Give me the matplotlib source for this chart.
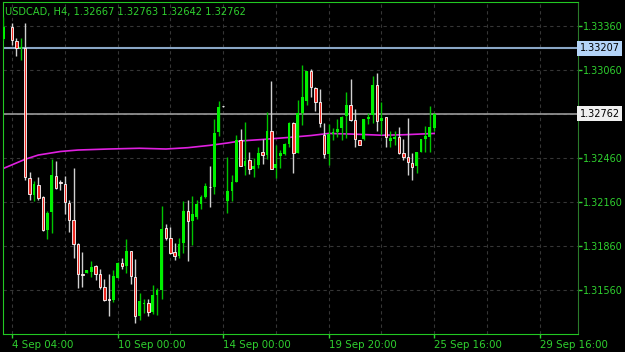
import numpy as np
import matplotlib.pyplot as plt
from matplotlib.transforms import blended_transform_factory

# H4 candles, one entry per bar (bar 1 not visible in the picture)
opens = [1.33271, np.nan, 1.33353, 1.33258, 1.33210, 1.33210, 1.32323, 1.32208, 1.32276, 1.32194,
         1.31969, 1.32092, 1.32337, 1.32296, 1.32283, 1.32153, 1.32037, 1.31873, 1.31669, 1.31676,
         1.31683, 1.31723, 1.31669, 1.31580, 1.31498, 1.31492, 1.31642, 1.31744, 1.31723, 1.31826,
         1.31648, 1.31383, 1.31464, 1.31471, 1.31410, 1.31526, 1.31560, 1.31983, 1.31914, 1.31819,
         1.31792, 1.31880, 1.32098, 1.32030, 1.32058, 1.32146, 1.32194, 1.32262, 1.32262, 1.32637,
         1.32814, 1.32167, 1.32235, 1.32296, 1.32583, 1.32405, 1.32446, 1.32385, 1.32412, 1.32501,
         1.32480, 1.32644, 1.32392, 1.32473, 1.32487, 1.32555, 1.32698, 1.32494, 1.32767, 1.32848,
         1.33053, 1.32937, 1.32842, 1.32617, 1.32487, 1.32623, 1.32637, 1.32664, 1.32746, 1.32821,
         1.32719, 1.32583, 1.32589, 1.32726, 1.32753, 1.32958, 1.32712, 1.32739, 1.32576, 1.32589,
         1.32603, 1.32494, 1.32467, 1.32426, 1.32405, 1.32501, 1.32589, 1.32603, 1.32667]
highs = [1.33421, np.nan, 1.33380, 1.33278, 1.33278, 1.33380, 1.32364, 1.32303, 1.32330, 1.32201,
         1.32098, 1.32453, 1.32439, 1.32310, 1.32337, 1.32173, 1.32392, 1.31880, 1.31819, 1.31696,
         1.31758, 1.31730, 1.31703, 1.31635, 1.31669, 1.31696, 1.31751, 1.31778, 1.31908, 1.31826,
         1.31771, 1.31539, 1.31498, 1.31498, 1.31594, 1.31573, 1.32133, 1.32010, 1.31989, 1.31880,
         1.31914, 1.32167, 1.32173, 1.32201, 1.32173, 1.32208, 1.32289, 1.32405, 1.32726, 1.32848,
         1.32814, 1.32467, 1.32344, 1.32617, 1.32658, 1.32705, 1.32501, 1.32460, 1.32535, 1.32589,
         1.32773, 1.32985, 1.32548, 1.32514, 1.32562, 1.32705, 1.32705, 1.32855, 1.33094, 1.33053,
         1.33067, 1.32944, 1.32930, 1.32698, 1.32692, 1.32664, 1.32726, 1.32746, 1.32910, 1.32998,
         1.32794, 1.32583, 1.32726, 1.32767, 1.33019, 1.33039, 1.32842, 1.32739, 1.32644, 1.32644,
         1.32671, 1.32589, 1.32733, 1.32494, 1.32501, 1.32589, 1.32678, 1.32814, 1.32763]
lows = [1.33264, np.nan, 1.33230, 1.33155, 1.33128, 1.32310, 1.32173, 1.32167, 1.32173, 1.31962,
        1.31908, 1.31948, 1.32248, 1.32242, 1.32078, 1.31955, 1.31778, 1.31573, 1.31580, 1.31676,
        1.31648, 1.31628, 1.31567, 1.31485, 1.31383, 1.31478, 1.31642, 1.31703, 1.31676, 1.31601,
        1.31335, 1.31355, 1.31403, 1.31383, 1.31396, 1.31389, 1.31498, 1.31901, 1.31805, 1.31764,
        1.31778, 1.31812, 1.31758, 1.31867, 1.32044, 1.32112, 1.32187, 1.32126, 1.32214, 1.32610,
        1.32808, 1.32085, 1.32167, 1.32296, 1.32405, 1.32344, 1.32351, 1.32330, 1.32392, 1.32419,
        1.32453, 1.32385, 1.32323, 1.32392, 1.32480, 1.32535, 1.32358, 1.32494, 1.32685, 1.32821,
        1.32876, 1.32780, 1.32671, 1.32460, 1.32412, 1.32583, 1.32603, 1.32583, 1.32596, 1.32712,
        1.32535, 1.32548, 1.32583, 1.32692, 1.32698, 1.32644, 1.32617, 1.32535, 1.32535, 1.32548,
        1.32487, 1.32446, 1.32344, 1.32310, 1.32358, 1.32501, 1.32501, 1.32501, 1.32642]
closes = [1.33353, np.nan, 1.33264, 1.33210, 1.33217, 1.32330, 1.32214, 1.32283, 1.32187, 1.31969,
          1.32085, 1.32344, 1.32255, 1.32289, 1.32160, 1.32037, 1.31873, 1.31669, 1.31662, 1.31696,
          1.31717, 1.31669, 1.31580, 1.31492, 1.31492, 1.31655, 1.31744, 1.31723, 1.31826, 1.31655,
          1.31383, 1.31485, 1.31471, 1.31410, 1.31526, 1.31560, 1.31976, 1.31914, 1.31812, 1.31792,
          1.31873, 1.32098, 1.32030, 1.32078, 1.32146, 1.32194, 1.32269, 1.32259, 1.32630, 1.32808,
          1.32811, 1.32235, 1.32296, 1.32583, 1.32405, 1.32439, 1.32385, 1.32405, 1.32494, 1.32480,
          1.32644, 1.32385, 1.32419, 1.32494, 1.32555, 1.32698, 1.32494, 1.32767, 1.32876, 1.33053,
          1.32944, 1.32842, 1.32698, 1.32487, 1.32623, 1.32637, 1.32658, 1.32739, 1.32821, 1.32719,
          1.32589, 1.32548, 1.32726, 1.32739, 1.32958, 1.32712, 1.32733, 1.32603, 1.32596, 1.32603,
          1.32494, 1.32467, 1.32433, 1.32398, 1.32501, 1.32589, 1.32610, 1.32671, 1.32762]

# moving average read at some bars
ma_bar = [0, 5, 8, 13, 17, 24, 31, 37, 42, 47, 51, 54, 59, 65, 70, 74, 79, 86, 91, 98]
ma_val = [1.32388, 1.32451, 1.32480, 1.32504, 1.32514, 1.32521, 1.32526, 1.32521, 1.32530, 1.32546,
          1.32562, 1.32576, 1.32586, 1.32600, 1.32613, 1.32627, 1.32623, 1.32615, 1.32618, 1.32627]

price_ticks = [1.33360, 1.33060, 1.32460, 1.32160, 1.31860, 1.31560]
grid_prices = [1.33360, 1.33060, 1.32760, 1.32460, 1.32160, 1.31860, 1.31560]
time_bars = [2, 26, 50, 74, 98, 122]
time_labels = ["4 Sep 04:00", "10 Sep 00:00", "14 Sep 00:00", "19 Sep 20:00",
               "25 Sep 16:00", "29 Sep 16:00"]
grid_bars = [14, 38, 62, 86, 110]
level_line = 1.33207
bid_line = 1.32762
title = "USDCAD, H4, 1.32667 1.32763 1.32642 1.32762"

o = np.array(opens, float)
h = np.array(highs, float)
l = np.array(lows, float)
c = np.array(closes, float)
x = np.arange(len(o))
ok = ~np.isnan(o)
up = ok & (c >= o)
dn = ok & (c < o)

txt_green = '#2fd02f'
fig = plt.figure(figsize=(6.25, 3.52), dpi=100, facecolor='black')
ax = fig.add_axes([2.5 / 625, 18 / 352, 575 / 625, 332 / 352])
ax.set_facecolor('black')

# grid
for p in grid_prices:
    ax.axhline(p, color='#363636', lw=0.8, ls=(0, (3, 3)), zorder=0)
for b in time_bars + grid_bars:
    ax.axvline(b, color='#363636', lw=0.8, ls=(0, (3, 3)), zorder=0)

ax.axhline(level_line, color='#8aa6c6', lw=1.5, zorder=1)
ax.axhline(bid_line, color='#9a9a9a', lw=1.2, zorder=1)

ax.plot(ma_bar, ma_val, color='#e020e0', lw=1.2, zorder=2)

ax.vlines(x[up], l[up], h[up], color='#00c400', lw=1, zorder=3)
ax.vlines(x[dn], l[dn], h[dn], color='#d0d0d0', lw=1, zorder=3)
up_h = np.maximum(c[up] - o[up], 0.00003)
ax.bar(x[up], up_h, bottom=o[up], width=0.62, color='#00f000', lw=0, zorder=4)
ax.bar(x[dn], c[dn] - o[dn], bottom=o[dn], width=0.55, color='#ee2a22',
       edgecolor='white', lw=0.6, zorder=4)

ax.set_xlim(-0.16, 130.6)
ax.set_ylim(1.31260, 1.33523)

ax.yaxis.tick_right()
ax.set_yticks(price_ticks)
ax.set_yticklabels(["%.5f" % p for p in price_ticks])
ax.set_xticks(time_bars)
ax.set_xticklabels(time_labels)
for t in ax.get_xticklabels():
    t.set_horizontalalignment('left')
ax.tick_params(axis='y', colors=txt_green, labelsize=7, length=3, width=1, pad=1)
ax.tick_params(axis='x', colors=txt_green, labelsize=7.4, length=3, width=1, pad=1.5)

for side in ['left', 'top', 'bottom']:
    ax.spines[side].set_color('#22c822')
ax.spines['right'].set_color('#2a7a2a')

tr = blended_transform_factory(ax.transAxes, ax.transData)
ax.text(1.004, level_line, "%.5f" % level_line, transform=tr, fontsize=7, color='black',
        va='center', ha='left', bbox=dict(boxstyle='square,pad=0.25', fc='#b4d4f8', ec='none'))
ax.text(1.004, bid_line, "%.5f" % bid_line, transform=tr, fontsize=7, color='black',
        va='center', ha='left', bbox=dict(boxstyle='square,pad=0.25', fc='#f0f0f0', ec='none'))

ax.text(0.004, 0.985, title, transform=ax.transAxes, fontsize=7.1, color=txt_green,
        va='top', ha='left')

fig.savefig('out.png', dpi=100, facecolor='black')
